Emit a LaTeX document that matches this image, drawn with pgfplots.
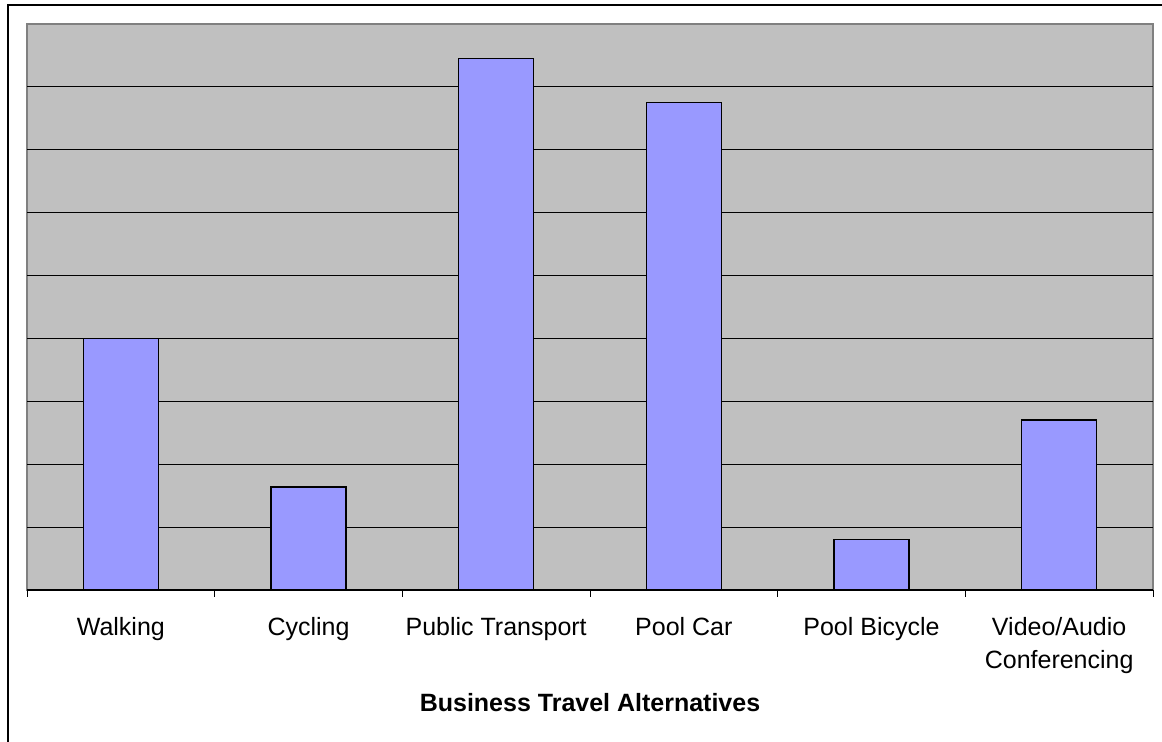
\documentclass[border=0pt]{standalone}
\usepackage{fontspec}
\setmainfont{Liberation Sans}
\usepackage{pgfplots}
\pgfplotsset{compat=1.18}
\definecolor{plotgray}{HTML}{C0C0C0}
\definecolor{boxgray}{HTML}{808080}
\definecolor{barblue}{HTML}{9999FF}
\begin{document}
\begin{tikzpicture}
% picture is 1162x742 px at 0.5pt per px; axis box sits at its origin
\useasboundingbox (-13.5pt,-76pt) rectangle (567.5pt,295pt);
% outer chart frame (only left and top are inside the picture)
\draw[line width=1.1pt] (-9.5pt,-76pt) -- (-9.5pt,292.5pt) -- (567.5pt,292.5pt);
\begin{axis}[
  at={(0,0)}, anchor=south west,
  scale only axis, width=563pt, height=283pt,
  xmin=-0.5, xmax=5.5, ymin=0, ymax=9,
  axis background/.style={fill=plotgray, draw=boxgray, line width=1pt},
  axis x line*=bottom, axis y line*=left,
  x axis line style={black, line width=0.6pt, -},
  y axis line style={draw=none},
  ytick={1,...,8}, yticklabels={}, ytick style={draw=none},
  ymajorgrids, grid style={black, line width=0.6pt},
  xtick={0,...,5},
  xticklabels={Walking, Cycling, Public Transport, Pool Car, Pool Bicycle, {Video/Audio\\Conferencing}},
  xtick style={draw=none},
  xticklabel style={font=\fontsize{12.5}{16.5}\selectfont, align=center, yshift=-6pt},
  extra x ticks={-0.5,0.5,...,5.5},
  extra x tick labels={},
  extra x tick style={xtick style={draw=black, line width=0.5pt}, major tick length=3.5pt, tick align=outside, grid=none},
  xlabel={Business Travel Alternatives},
  xlabel style={font=\fontsize{12.5}{15}\selectfont\bfseries, at={(rel axis cs:0.5,0)}, anchor=center, yshift=-56.5pt},
  ybar, bar width=37.5pt,
  clip=false,
]
\addplot[fill=barblue, draw=black, line width=0.8pt] coordinates {
  (0,4.00) (1,1.64) (2,8.45) (3,7.75) (4,0.80) (5,2.70)
};
\end{axis}
\end{tikzpicture}
\end{document}
